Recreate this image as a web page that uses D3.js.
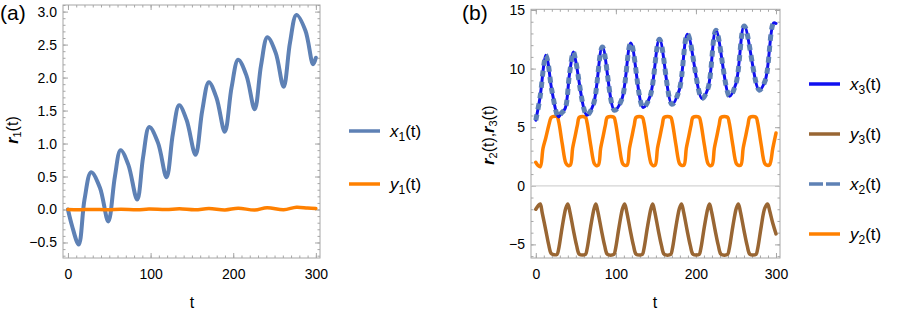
<!DOCTYPE html>
<html>
<head>
<meta charset="utf-8">
<script src="https://cdn.jsdelivr.net/npm/d3@7"></script>
<style>
body { margin: 0; background: #fff; }
text { font-family: "Liberation Sans", Arial, sans-serif; fill: #000; }
</style>
</head>
<body>
<svg id="chart" width="897" height="315"></svg>
<script>
// ---- panel (a) data ----
var tX1 = [0, 5, 13, 20, 28, 38.7, 48.8, 56.8, 63.7, 73, 83.8, 91, 98.4, 109, 119.3, 127, 134.6, 143.5, 154.4, 162.5, 170.5, 179.8, 189.8, 198, 206, 216, 226, 233.7, 241.4, 251.5, 261, 268.7, 276.5, 287.4, 296.6, 300]
var x1 = [0, -0.25, -0.53, 0.15, 0.565, 0.33, -0.18, 0.5, 0.9, 0.68, 0.15, 0.8, 1.25, 1.01, 0.49, 1.15, 1.58, 1.36, 0.83, 1.5, 1.93, 1.69, 1.18, 1.85, 2.27, 2.03, 1.52, 2.19, 2.61, 2.37, 1.86, 2.53, 2.95, 2.71, 2.2, 2.3]
var tY1 = [0, 13, 28, 49, 64, 84, 98, 119, 135, 154, 170.5, 190, 206, 226, 241, 261, 276.5, 290, 300]
var y1 = [0, -0.005, 0.002, -0.004, 0.004, -0.005, 0.006, 0, 0.01, -0.005, 0.015, -0.006, 0.02, -0.008, 0.028, -0.004, 0.035, 0.022, 0.015]

// ---- panel (b) data ----
var tX2 = [0, 5.4, 10, 12.5, 15, 20, 28.3, 32, 36.7, 42, 47, 50, 63.8, 72, 83.2, 98.2, 107.4, 118.7, 134, 142.8, 154.5, 170, 179.1, 189.5, 207.5, 215, 225, 242, 250, 260.4, 279, 286.6, 297, 300]
var x2 = [5.6, 7.6, 10.3, 11.14, 10.6, 8.16, 5.88, 6.2, 6.6, 9.5, 11.42, 10.6, 6.03, 6.96, 11.85, 6.45, 7.37, 12.19, 6.68, 7.65, 12.5, 6.96, 8.16, 12.93, 7.45, 8.3, 13.27, 7.65, 8.73, 13.64, 8.16, 9.0, 13.9, 13.85]
var x3 = x2 // x3(t) lies exactly on x2(t) in the figure

var tY2 = [0, 2.5, 5.5, 9, 12.5, 16, 19, 21, 26.5, 28.5, 33, 37.5, 40, 43,
  46, 49, 52, 54.5, 62, 64, 68.5, 73, 75, 78,
  81, 84, 87, 89.5, 97.5, 99.5, 104, 108.5, 111, 114,
  117, 120, 123, 125.5, 133, 135, 139.5, 144, 146, 149,
  152, 155, 158, 160.5, 168.5, 170.5, 175, 179.5, 182, 185,
  188, 191, 194, 196.5, 204, 206, 210.5, 215, 217, 220,
  223, 226, 229, 231.5, 239.5, 241.5, 246, 250.5, 253, 256,
  259, 262, 265, 267.5, 275, 277, 281.5, 286, 289, 292, 296, 300]
var y2 = [2.0, 1.75, 1.62, 3.2, 4.1, 5.1, 5.8, 5.9, 5.9, 5.5, 3.6, 1.95, 1.75, 1.75,
  3.2, 4.2, 5.2, 5.85, 5.85, 5.4, 3.5, 1.9, 1.75, 1.75,
  3.2, 4.2, 5.2, 5.85, 5.85, 5.4, 3.5, 1.9, 1.75, 1.75,
  3.2, 4.2, 5.2, 5.85, 5.85, 5.4, 3.5, 1.9, 1.75, 1.75,
  3.2, 4.2, 5.2, 5.85, 5.85, 5.4, 3.5, 1.9, 1.75, 1.75,
  3.2, 4.2, 5.2, 5.85, 5.85, 5.4, 3.5, 1.9, 1.75, 1.75,
  3.2, 4.2, 5.2, 5.85, 5.85, 5.4, 3.5, 1.9, 1.75, 1.75,
  3.2, 4.2, 5.2, 5.85, 5.85, 5.4, 3.5, 1.9, 1.75, 1.8, 3.2, 4.5]

var tY3 = [0, 3, 5.5, 8, 12.5, 16, 19, 21, 26.5, 28.5, 33, 37.5, 40,
  42.5, 47, 51, 54.5, 62, 64, 68.5, 73, 75,
  77.5, 82, 86, 89.5, 97.5, 99.5, 104, 108.5, 111,
  113.5, 118, 122, 125.5, 133, 135, 139.5, 144, 146,
  148.5, 153, 157, 160.5, 168.5, 170.5, 175, 179.5, 182,
  184.5, 189, 193, 196.5, 204, 206, 210.5, 215, 217,
  219.5, 224, 228, 231.5, 239.5, 241.5, 246, 250.5, 253,
  255.5, 260, 264, 267.5, 275, 277, 281.5, 286, 289.5, 292, 296, 300]
var y3 = [-2.0, -1.7, -1.55, -2.3, -3.8, -5.0, -5.75, -5.85, -5.85, -5.4, -3.5, -1.9, -1.55,
  -2.2, -3.8, -5.1, -5.85, -5.85, -5.4, -3.5, -1.9, -1.55,
  -2.2, -3.8, -5.1, -5.85, -5.85, -5.4, -3.5, -1.9, -1.55,
  -2.2, -3.8, -5.1, -5.85, -5.85, -5.4, -3.5, -1.9, -1.55,
  -2.2, -3.8, -5.1, -5.85, -5.85, -5.4, -3.5, -1.9, -1.55,
  -2.2, -3.8, -5.1, -5.85, -5.85, -5.4, -3.5, -1.9, -1.55,
  -2.2, -3.8, -5.1, -5.85, -5.85, -5.4, -3.5, -1.9, -1.55,
  -2.2, -3.8, -5.1, -5.85, -5.85, -5.4, -3.5, -1.9, -1.55, -2.1, -3.2, -4.1]

// ticks
var tTicks = [0, 100, 200, 300]
var aTicks = [-0.5, 0, 0.5, 1, 1.5, 2, 2.5, 3]
var bTicks = [-5, 0, 5, 10, 15]

var blue = "#5e81b5", orange = "#ff8000", brown = "#996633", pureBlue = "#1010f0"
var frameCol = "#a6a6a6"

var svg = d3.select("#chart")

function zip(ts, vs) { return ts.map(function (t, i) { return [t, vs[i]] }) }

function frame(x, y, yTicks, yMinor, yFmt) {
  var x0 = x.range()[0], x1r = x.range()[1], yb = y.range()[0], yt = y.range()[1]
  var xMinor = d3.range(0, 310, 10)
  var g = svg.append("g")
  // minor ticks
  g.append("g").attr("transform", "translate(0," + yb + ")").call(d3.axisBottom(x).tickValues(xMinor).tickSize(-2.5).tickFormat(""))
  g.append("g").attr("transform", "translate(0," + yt + ")").call(d3.axisTop(x).tickValues(xMinor).tickSize(-2.5).tickFormat(""))
  g.append("g").attr("transform", "translate(" + x0 + ",0)").call(d3.axisLeft(y).tickValues(yMinor).tickSize(-2.5).tickFormat(""))
  g.append("g").attr("transform", "translate(" + x1r + ",0)").call(d3.axisRight(y).tickValues(yMinor).tickSize(-2.5).tickFormat(""))
  // major ticks
  g.append("g").attr("class", "lab").attr("transform", "translate(0," + yb + ")").call(d3.axisBottom(x).tickValues(tTicks).tickSize(-5).tickPadding(11).tickFormat(d3.format("d")))
  g.append("g").attr("transform", "translate(0," + yt + ")").call(d3.axisTop(x).tickValues(tTicks).tickSize(-5).tickFormat(""))
  g.append("g").attr("class", "lab").attr("transform", "translate(" + x0 + ",0)").call(d3.axisLeft(y).tickValues(yTicks).tickSize(-5).tickPadding(6).tickFormat(yFmt))
  g.append("g").attr("transform", "translate(" + x1r + ",0)").call(d3.axisRight(y).tickValues(yTicks).tickSize(-5).tickFormat(""))
  g.selectAll(".domain").remove()
  g.selectAll("line").attr("stroke", frameCol).attr("stroke-width", 1)
  g.selectAll(".lab text").style("font-size", "14px").attr("fill", "#000")
  svg.append("rect").attr("x", x0).attr("y", yt).attr("width", x1r - x0).attr("height", yb - yt)
    .attr("fill", "none").attr("stroke", frameCol).attr("stroke-width", 1)
}

function curve(x, y, ts, vs, col, w, dash) {
  var line = d3.line().x(function (d) { return x(d[0]) }).y(function (d) { return y(d[1]) })
    .curve(d3.curveCatmullRom.alpha(0.5))
  var p = svg.append("path").datum(zip(ts, vs)).attr("d", line)
    .attr("fill", "none").attr("stroke", col).attr("stroke-width", w)
    .attr("stroke-linejoin", "round").attr("stroke-linecap", "round")
  if (dash) p.attr("stroke-dasharray", dash).attr("stroke-linecap", "butt")
}

function legendItem(lx, ly, col, letter, sub, dash) {
  var l = svg.append("line").attr("x1", lx).attr("x2", lx + 31).attr("y1", ly).attr("y2", ly)
    .attr("stroke", col).attr("stroke-width", 3.5)
  if (dash) l.attr("stroke-dasharray", dash)
  var t = svg.append("text").attr("x", lx + 41).attr("y", ly + 6).style("font-size", "17px")
  t.append("tspan").style("font-style", "italic").text(letter)
  t.append("tspan").attr("dy", 4).style("font-size", "12px").text(sub)
  t.append("tspan").attr("dy", -4).text("(t)")
}

// ---------- panel (a) ----------
var xa = d3.scaleLinear().domain([-6, 305]).range([63, 320])
var ya = d3.scaleLinear().domain([-0.735, 3.1]).range([258, 5])
frame(xa, ya, aTicks, d3.range(-7, 32).map(function (d) { return d / 10 }), d3.format(".1f"))
curve(xa, ya, tX1, x1, blue, 4)
curve(xa, ya, tY1, y1, orange, 3.5)

svg.append("text").attr("x", 0).attr("y", 20).style("font-size", "21px").text("(a)")
svg.append("text").attr("x", 192).attr("y", 308).attr("text-anchor", "middle").style("font-size", "16px").text("t")
var ra = svg.append("text").attr("transform", "translate(18,130) rotate(-90)").attr("text-anchor", "middle").style("font-size", "16px")
ra.append("tspan").style("font-style", "italic").style("font-weight", "bold").text("r")
ra.append("tspan").attr("dy", 3).style("font-size", "11px").text("1")
ra.append("tspan").attr("dy", -3).text("(t)")

legendItem(349, 131, blue, "x", "1")
legendItem(349, 184, orange, "y", "1")

// ---------- panel (b) ----------
var xb = d3.scaleLinear().domain([-6, 305]).range([531, 780])
var yb = d3.scaleLinear().domain([-6.16, 15.06]).range([258, 9.3])
frame(xb, yb, bTicks, d3.range(-6, 16), d3.format("d"))
svg.append("line").attr("x1", xb(-6)).attr("x2", xb(305)).attr("y1", yb(0)).attr("y2", yb(0))
  .attr("stroke", "#d4d4d4").attr("stroke-width", 1.2)

curve(xb, yb, tY2, y2, orange, 3.5)
curve(xb, yb, tY3, y3, brown, 3.5)
curve(xb, yb, tX2, x3, pureBlue, 3)
curve(xb, yb, tX2, x2, blue, 5, "6,5")

svg.append("text").attr("x", 462).attr("y", 20).style("font-size", "21px").text("(b)")
svg.append("text").attr("x", 655).attr("y", 308).attr("text-anchor", "middle").style("font-size", "16px").text("t")
var rb = svg.append("text").attr("transform", "translate(494,135) rotate(-90)").attr("text-anchor", "middle").style("font-size", "16px")
rb.append("tspan").style("font-style", "italic").style("font-weight", "bold").text("r")
rb.append("tspan").attr("dy", 3).style("font-size", "11px").text("2")
rb.append("tspan").attr("dy", -3).text("(t),")
rb.append("tspan").style("font-style", "italic").style("font-weight", "bold").text("r")
rb.append("tspan").attr("dy", 3).style("font-size", "11px").text("3")
rb.append("tspan").attr("dy", -3).text("(t)")

legendItem(809, 84, pureBlue, "x", "3")
legendItem(809, 134, brown, "y", "3")
legendItem(809, 184, blue, "x", "2", "14,3")
legendItem(809, 234, orange, "y", "2")
</script>
</body>
</html>
